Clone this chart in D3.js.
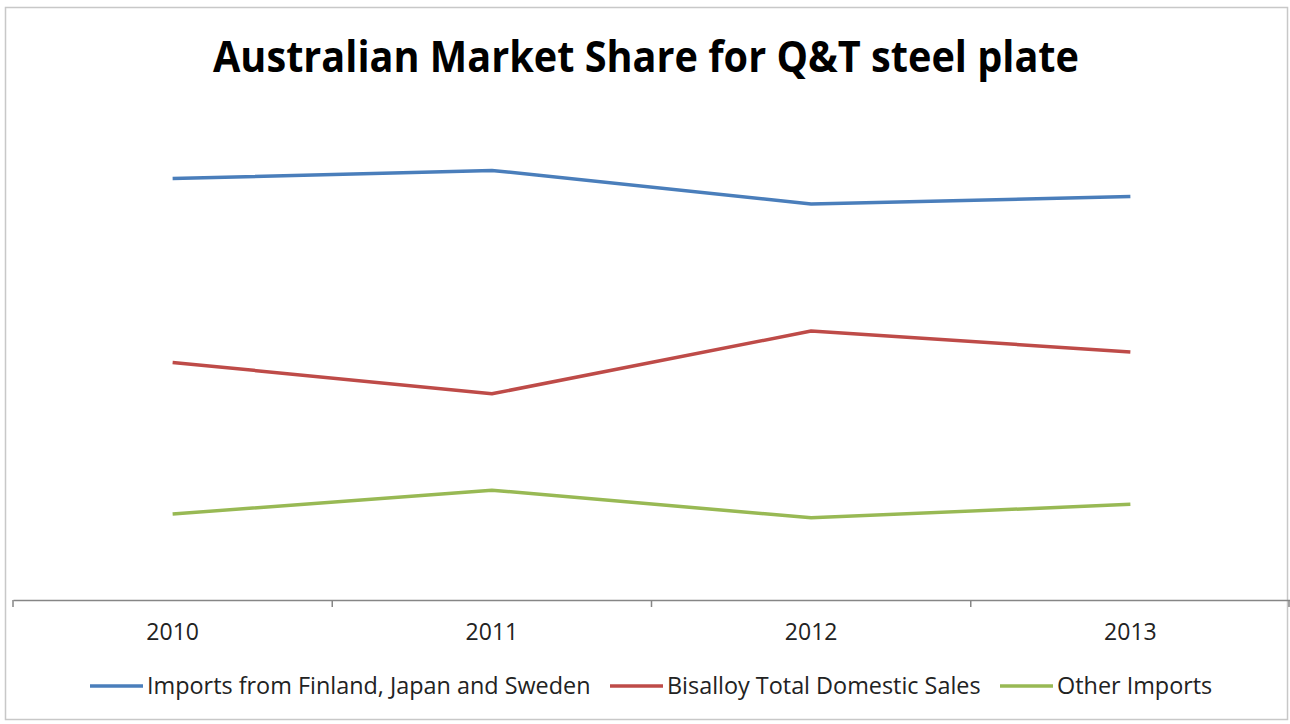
<!DOCTYPE html>
<html>
<head>
<meta charset="utf-8">
<script src="https://cdn.jsdelivr.net/npm/d3@7"></script>
<style>
  body { margin: 0; background: #fff; }
  text { font-family: "Open Sans", "Noto Sans", sans-serif; }
</style>
</head>
<body>
<div id="chart"></div>
<script>
var years = ["2010", "2011", "2012", "2013"];
var seriesNames = ["Imports from Finland, Japan and Sweden", "Bisalloy Total Domestic Sales", "Other Imports"];
var importsFJS = [0.564, 0.575, 0.530, 0.540];
var bisalloy = [0.318, 0.276, 0.360, 0.332];
var otherImports = [0.115, 0.147, 0.110, 0.128];
var colors = ["#4a7ebb", "#be4b48", "#98b954"];

var series = [importsFJS, bisalloy, otherImports];

var width = 1290, height = 724;

var svg = d3.select("#chart").append("svg")
    .attr("width", width)
    .attr("height", height);

// chart border
svg.append("rect")
    .attr("x", 5.5).attr("y", 7.5)
    .attr("width", 1282).attr("height", 712)
    .attr("fill", "#fff")
    .attr("stroke", "#c8c8c8")
    .attr("stroke-width", 1.5);

var x = d3.scaleBand().domain(years).range([13, 1290]);
var y = d3.scaleLinear().domain([0, 0.7]).range([600, 77]);

// title
svg.append("text")
    .attr("x", 646)
    .attr("y", 72)
    .attr("text-anchor", "middle")
    .attr("textLength", 866)
    .attr("lengthAdjust", "spacingAndGlyphs")
    .style("font-size", "43px")
    .style("font-weight", "bold")
    .attr("fill", "#000")
    .text("Australian Market Share for Q&T steel plate");

// x axis
var axis = svg.append("g")
    .attr("transform", "translate(0," + y(0) + ")")
    .call(d3.axisBottom(x).tickSize(0).tickPadding(24));
axis.select(".domain").attr("stroke", "#868686").attr("stroke-width", 1.5);
axis.selectAll("text")
    .style("font-size", "23px")
    .style("font-family", "'Open Sans', sans-serif")
    .attr("fill", "#222");

var edges = years.map(function(d) { return x(d); }).concat([x.range()[1] - 1]);
svg.selectAll(".tick-mark").data(edges).enter().append("line")
    .attr("class", "tick-mark")
    .attr("x1", function(d) { return d; }).attr("x2", function(d) { return d; })
    .attr("y1", y(0)).attr("y2", y(0) + 7)
    .attr("stroke", "#868686").attr("stroke-width", 1.5);

// lines
var line = d3.line()
    .x(function(d, i) { return x(years[i]) + x.bandwidth() / 2; })
    .y(function(d) { return y(d); });

svg.selectAll(".series").data(series).enter().append("path")
    .attr("class", "series")
    .attr("d", line)
    .attr("fill", "none")
    .attr("stroke", function(d, i) { return colors[i]; })
    .attr("stroke-width", 3.5)
    .attr("stroke-linejoin", "round");

// legend
var legendX = [90, 610, 1000];
var legend = svg.selectAll(".legend").data(seriesNames).enter().append("g")
    .attr("class", "legend")
    .attr("transform", function(d, i) { return "translate(" + legendX[i] + ",686)"; });
legend.append("line")
    .attr("x1", 0).attr("x2", 53)
    .attr("stroke", function(d, i) { return colors[i]; })
    .attr("stroke-width", 3.5);
legend.append("text")
    .attr("x", 57)
    .attr("y", 8)
    .style("font-size", "23.4px")
    .attr("fill", "#222")
    .text(function(d) { return d; });
</script>
</body>
</html>
